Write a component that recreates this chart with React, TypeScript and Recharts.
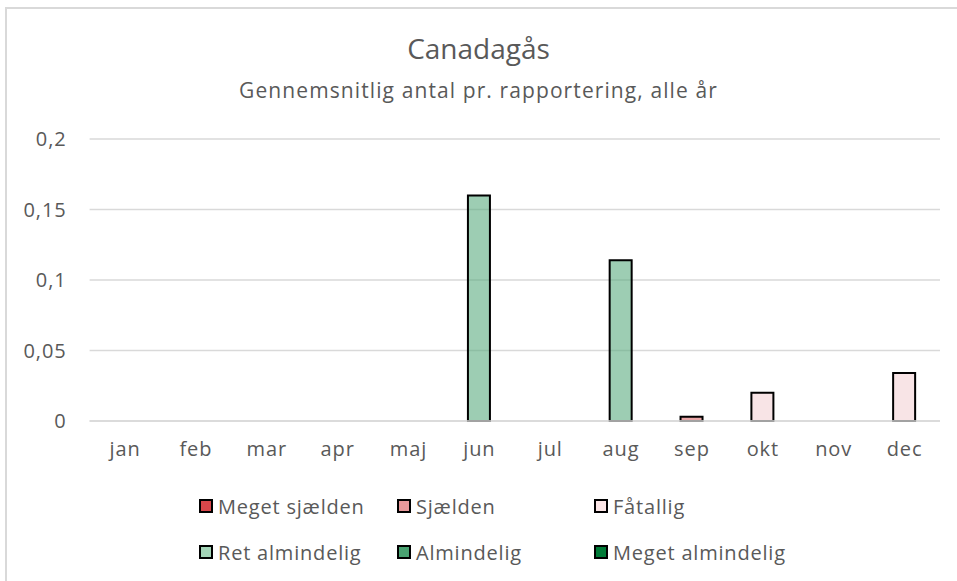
import { BarChart, Bar, XAxis, YAxis, CartesianGrid, Cell, Legend } from "recharts";

const months = ["jan", "feb", "mar", "apr", "maj", "jun", "jul", "aug", "sep", "okt", "nov", "dec"];
const avgCount = [0, 0, 0, 0, 0, 0.16, 0, 0.114, 0.003, 0.02, 0, 0.034];
const frequency = ["", "", "", "", "", "Ret almindelig", "", "Ret almindelig", "Sjælden", "Fåtallig", "", "Fåtallig"];
const yTicks = [0, 0.05, 0.1, 0.15, 0.2];

const classNames = ["Meget sjælden", "Sjælden", "Fåtallig", "Ret almindelig", "Almindelig", "Meget almindelig"];
const legendColors = ["#d9474b", "#e8999b", "#fbe5e6", "#a3d4b7", "#4aa372", "#007a37"];
// bars are drawn a bit see-through so the gridlines show, like in Excel
const barColors = ["#c92a30", "#dc6a6d", "#f3d2d5", "#5cac80", "#0e7f45", "#006b2e"];

const data = months.map((m, i) => ({ month: m, value: avgCount[i], cls: frequency[i] }));

const font = "'Open Sans', 'Noto Sans', sans-serif";
const grey = "#595959";

function LegendBox() {
  const cols = [199, 397, 594];
  const rows = [506, 552];
  return (
    <div style={{ position: "absolute", left: 0, top: 0, width: 957, height: 581, pointerEvents: "none" }}>
      {classNames.map((name, i) => {
        const x = cols[i % 3];
        const y = rows[Math.floor(i / 3)];
        return (
          <div key={name} style={{ position: "absolute", left: x, top: y - 12, height: 24, display: "flex", alignItems: "center" }}>
            <span
              style={{
                display: "inline-block",
                width: 10,
                height: 10,
                background: legendColors[i],
                border: "2px solid #000",
                marginRight: 5,
              }}
            />
            <span style={{ fontFamily: font, fontSize: 20, letterSpacing: 0.8, color: grey, whiteSpace: "nowrap" }}>{name}</span>
          </div>
        );
      })}
    </div>
  );
}

export default function App() {
  return (
    <div style={{ position: "absolute", left: 0, top: 0, width: 957, height: 581, background: "#fff", overflow: "hidden" }}>
      <div style={{ position: "absolute", left: 5, top: 7, width: 980, height: 600, border: "2px solid #d9d9d9" }} />
      <div style={{ position: "absolute", left: 0, width: 957, top: 29, textAlign: "center", fontFamily: font, fontSize: 28, color: grey }}>
        Canadagås
      </div>
      <div style={{ position: "absolute", left: 0, width: 957, top: 76, textAlign: "center", fontFamily: font, fontSize: 21, letterSpacing: 1.1, color: grey }}>
        Gennemsnitlig antal pr. rapportering, alle år
      </div>
      <BarChart
        width={957}
        height={581}
        data={data}
        margin={{ top: 139, right: 17, bottom: 130, left: 0 }}
        style={{ position: "absolute", left: 0, top: 0 }}
      >
        <CartesianGrid vertical={false} stroke="#d9d9d9" strokeWidth={1.5} />
        <XAxis
          dataKey="month"
          axisLine={{ stroke: "#d9d9d9", strokeWidth: 1.5 }}
          tickLine={false}
          tickSize={0}
          tickMargin={21}
          height={30}
          tick={{ fill: grey, fontSize: 20, fontFamily: font, letterSpacing: 0.9 }}
        />
        <YAxis
          domain={[0, 0.2]}
          ticks={yTicks}
          width={89.6}
          axisLine={false}
          tickLine={false}
          tickSize={0}
          tickMargin={23}
          tickFormatter={(v: number) => String(v).replace(".", ",")}
          tick={{ fill: grey, fontSize: 20, fontFamily: font, letterSpacing: 0.9 }}
        />
        <Legend content={() => null} />
        <Bar dataKey="value" barSize={22} stroke="#000" strokeWidth={2} fillOpacity={0.6} isAnimationActive={false}>
          {data.map((d, i) => (
            <Cell key={i} fill={barColors[Math.max(0, classNames.indexOf(d.cls))]} />
          ))}
        </Bar>
      </BarChart>
      <LegendBox />
    </div>
  );
}
